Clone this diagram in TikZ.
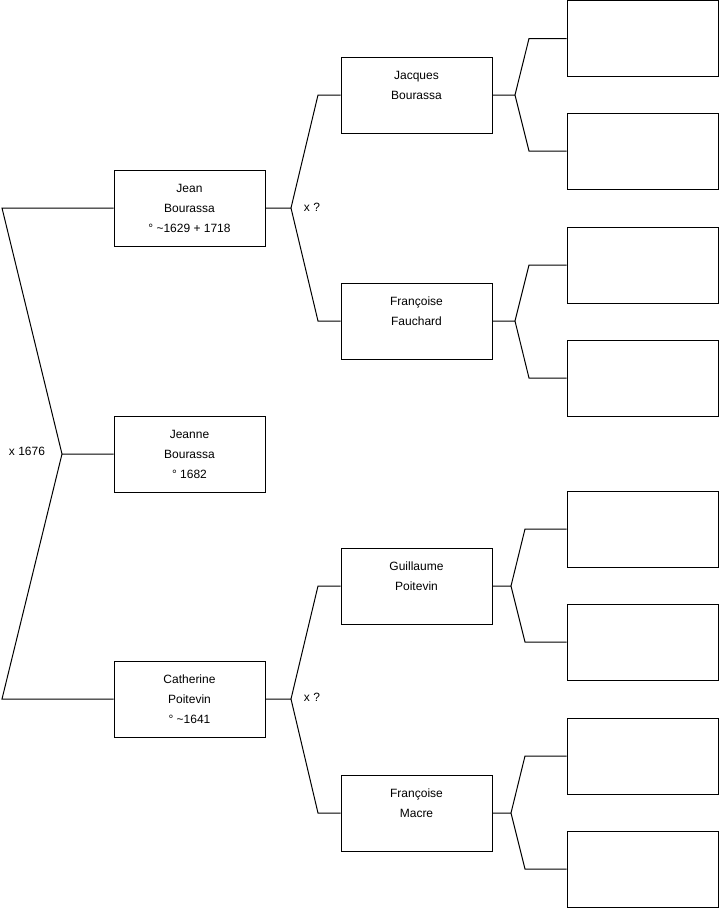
\documentclass[tikz,border=0pt]{standalone}
\usepackage{fontspec}
\setmainfont{Liberation Sans}
\usetikzlibrary{positioning}

\begin{document}
\begin{tikzpicture}[x=0.75pt,y=-0.75pt,font=\fontsize{9}{15}\selectfont,
  person/.style={draw,line width=0.75pt,minimum width=113.25pt,minimum height=57pt,inner sep=0pt,align=center},
  link/.style={line width=0.75pt}]
  \useasboundingbox (0,0) rectangle (719,908);
  % child and parents
  \node[person] (jeanne) at (189.5,454) {Jeanne\\Bourassa\\° 1682};
  \node[person] (jean) at (189.5,208) {Jean\\Bourassa\\° \textasciitilde1629 + 1718};
  \node[person] (catherine) at (189.5,699) {Catherine\\Poitevin\\° \textasciitilde1641};
  % grandparents
  \node[person] (jacques) at (416.5,95) {Jacques\\Bourassa\\\phantom{B}};
  \node[person] (fauchard) at (416.5,321) {Françoise\\Fauchard\\\phantom{B}};
  \node[person] (guillaume) at (416.5,586) {Guillaume\\Poitevin\\\phantom{B}};
  \node[person] (macre) at (416.5,813) {Françoise\\Macre\\\phantom{B}};
  % empty boxes
  \foreach \n/\y in {a1/38.5,a2/151,a3/265,a4/378,a5/529,a6/642,a7/756,a8/869}
    \node[person] (\n) at (642.5,\y) {};
  % marriage labels
  \node (m0) at (27,451) {x 1676};
  \node (m1) at (312,207) {x ?};
  \node (m2) at (312,697) {x ?};
  % forks
  \coordinate (f0) at (62,454); \coordinate (u0) at (2,208); \coordinate (d0) at (2,699);
  \coordinate (f1) at (291,208); \coordinate (u1) at (318,95); \coordinate (d1) at (318,321);
  \coordinate (f2) at (291,699); \coordinate (u2) at (318,586); \coordinate (d2) at (318,813);
  \coordinate (f3) at (515,95); \coordinate (u3) at (529,38.5); \coordinate (d3) at (529,151);
  \coordinate (f4) at (515,321); \coordinate (u4) at (529,265); \coordinate (d4) at (529,378);
  \coordinate (f5) at (511,586); \coordinate (u5) at (525,529); \coordinate (d5) at (525,642);
  \coordinate (f6) at (511,813); \coordinate (u6) at (525,756); \coordinate (d6) at (525,869);
  \foreach \c/\i/\p/\m in {jeanne/0/jean/catherine,jean/1/jacques/fauchard,catherine/2/guillaume/macre,
      jacques/3/a1/a2,fauchard/4/a3/a4,guillaume/5/a5/a6,macre/6/a7/a8}
    \draw[link] (\c) -- (f\i) (\p) -- (u\i) -- (f\i) -- (d\i) -- (\m);
\end{tikzpicture}
\end{document}
